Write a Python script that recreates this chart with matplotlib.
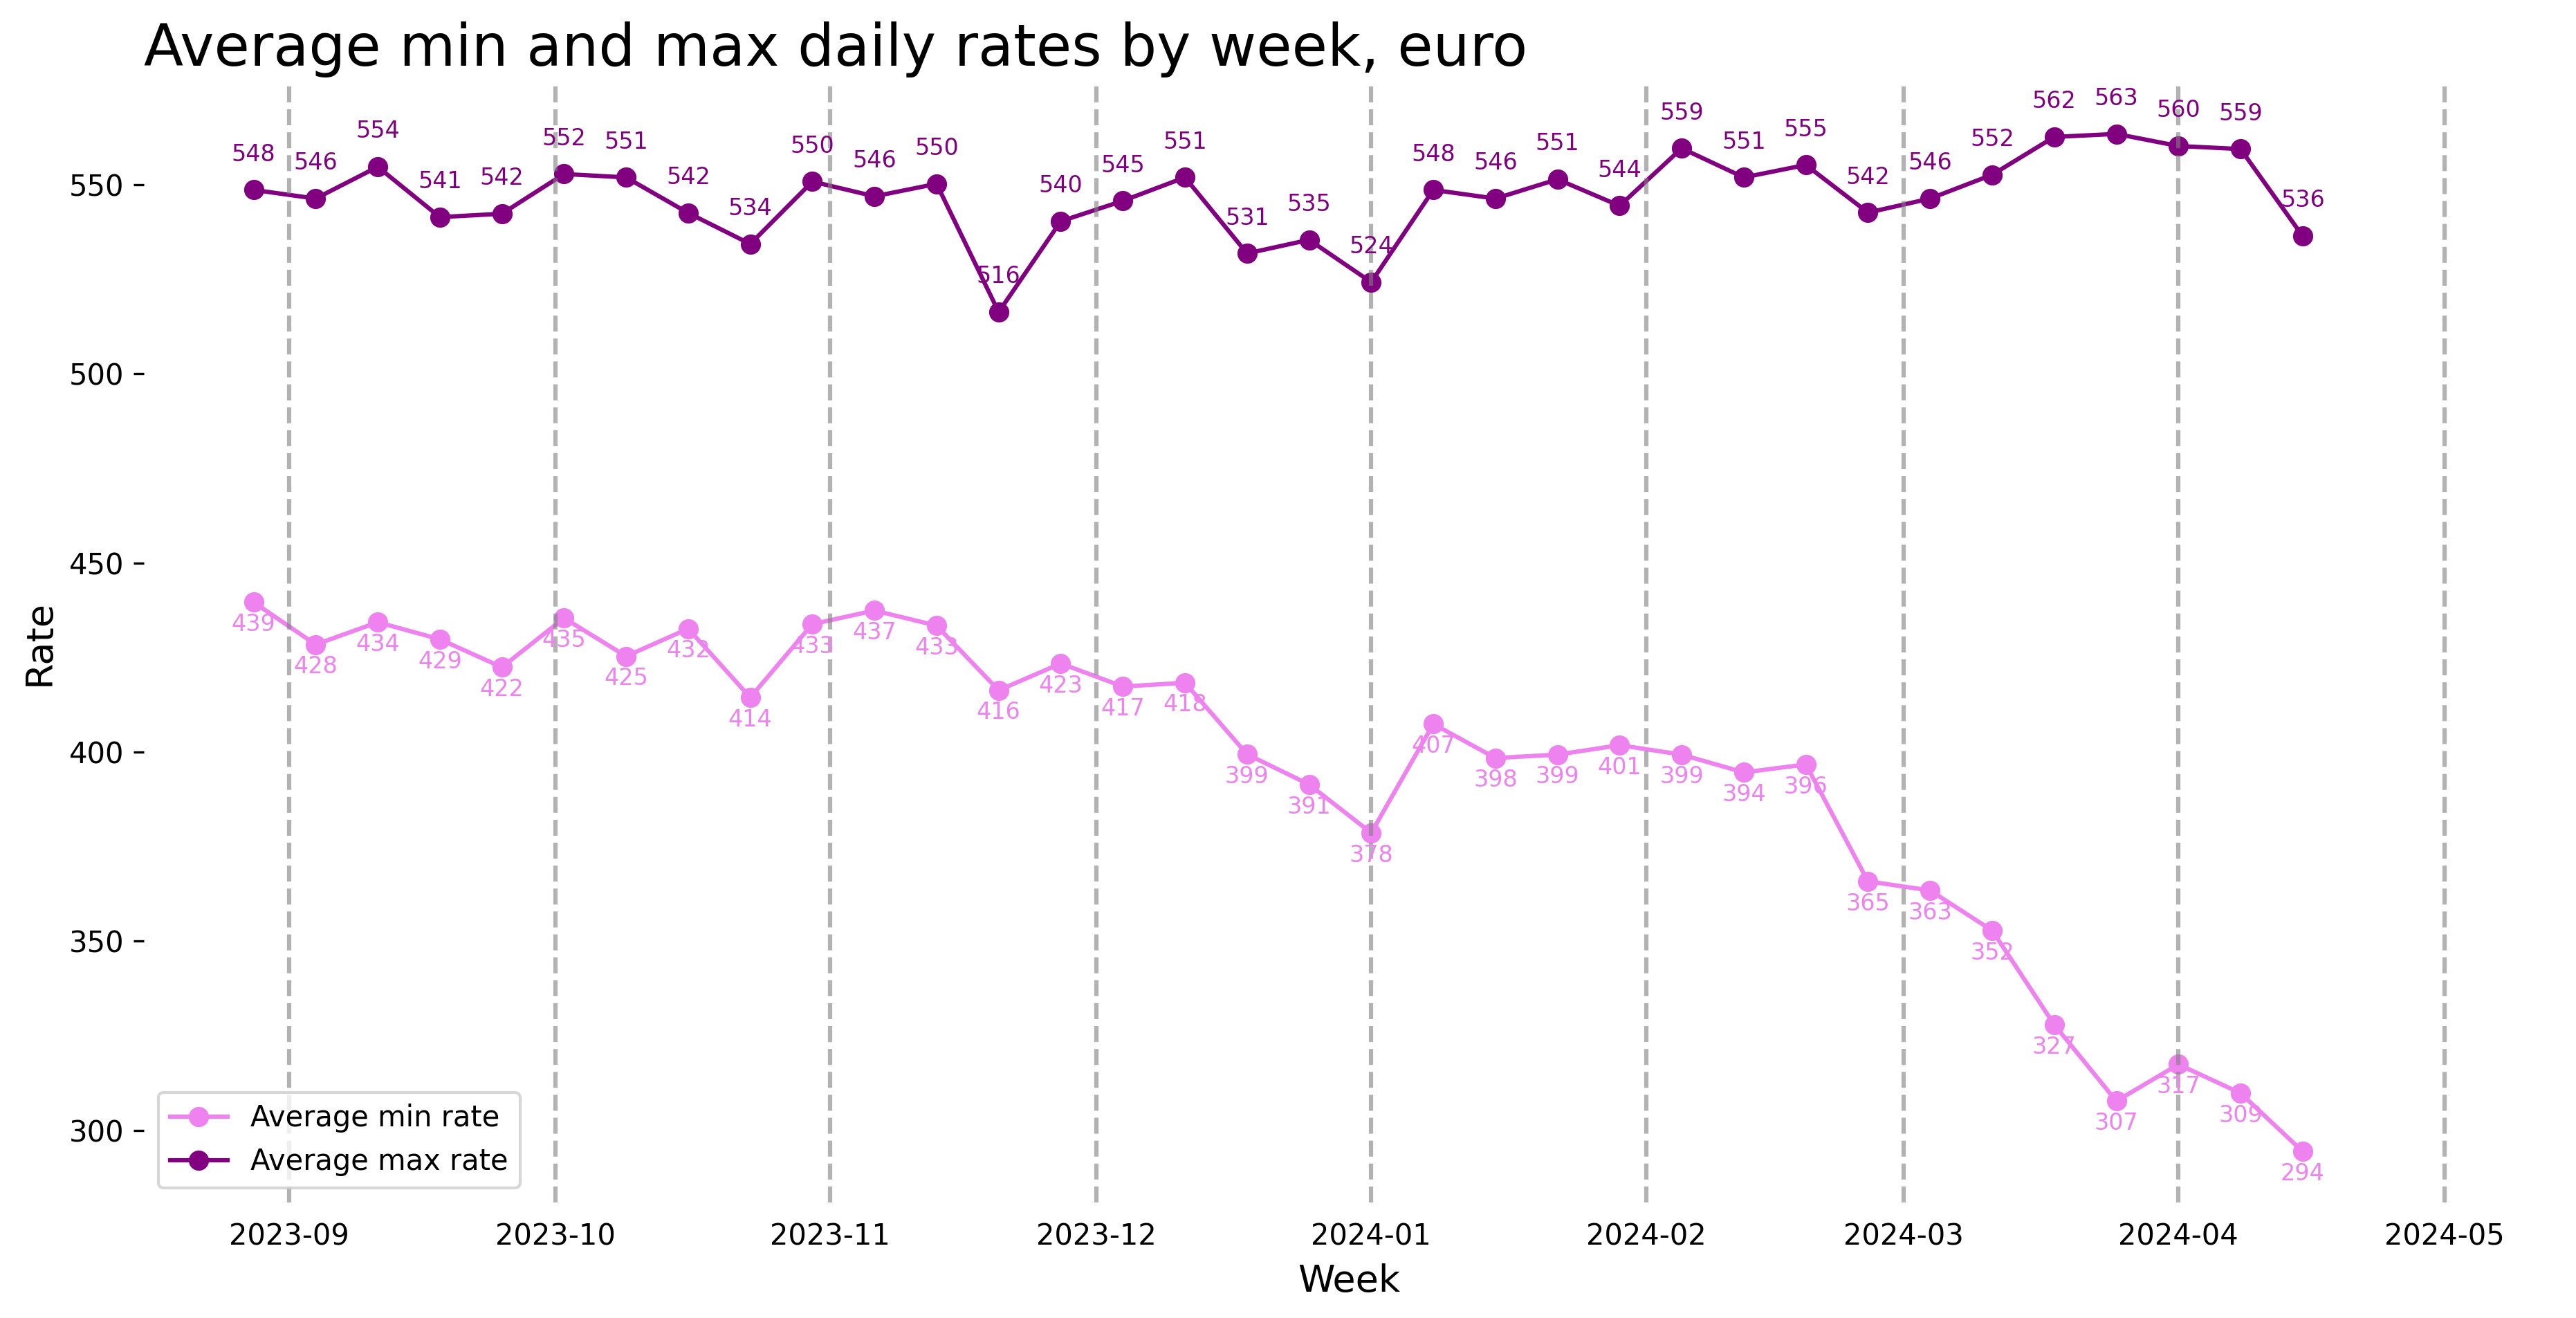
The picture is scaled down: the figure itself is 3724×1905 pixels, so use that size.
import matplotlib
matplotlib.use("Agg")
import matplotlib.pyplot as plt
import pandas as pd

# weekly averages (weeks start on Monday)
weeks = pd.date_range("2023-08-28", periods=34, freq="7D")

min_rate = [
    439.6, 428.4, 434.3, 429.8, 422.4, 435.4, 425.3, 432.6, 414.4, 433.8,
    437.4, 433.4, 416.3, 423.4, 417.3, 418.3, 399.4, 391.4, 378.6, 407.4,
    398.4, 399.3, 401.8, 399.3, 394.6, 396.7, 365.8, 363.4, 352.8, 327.9,
    307.7, 317.4, 309.8, 294.4,
]
max_rate = [
    548.6, 546.3, 554.7, 541.4, 542.3, 552.8, 551.9, 542.5, 534.3, 550.8,
    546.9, 550.2, 516.3, 540.3, 545.7, 551.9, 531.8, 535.4, 524.2, 548.6,
    546.3, 551.4, 544.4, 559.6, 551.9, 555.2, 542.6, 546.3, 552.6, 562.6,
    563.4, 560.2, 559.4, 536.4,
]

month_starts = pd.date_range("2023-09-01", "2024-05-01", freq="MS")

fig, ax = plt.subplots(figsize=(3724 / 300, 1905 / 300), dpi=300)
fig.subplots_adjust(left=0.0559, right=0.9915, bottom=0.0878, top=0.937)

ax.plot(weeks, min_rate, marker="o", color="violet", label="Average min rate")
ax.plot(weeks, max_rate, marker="o", color="purple", label="Average max rate")

for x, y in zip(weeks, min_rate):
    ax.annotate(f"{int(y)}", (x, y), textcoords="offset points", xytext=(0, -10),
                ha="center", fontsize=8, color="violet")
for x, y in zip(weeks, max_rate):
    ax.annotate(f"{int(y)}", (x, y), textcoords="offset points", xytext=(0, 10),
                ha="center", fontsize=8, color="purple")

for m in month_starts:
    ax.axvline(m, color="gray", linestyle="--", alpha=0.6)

ax.set_title("Average min and max daily rates by week, euro", loc="left", fontsize=20)
ax.set_xlabel("Week", fontsize=13)
ax.set_ylabel("Rate", fontsize=13)
ax.legend(loc="lower left")

for side in ["top", "right", "bottom", "left"]:
    ax.spines[side].set_visible(False)
ax.tick_params(axis="x", width=0)

fig.savefig("out.png", dpi=300)
